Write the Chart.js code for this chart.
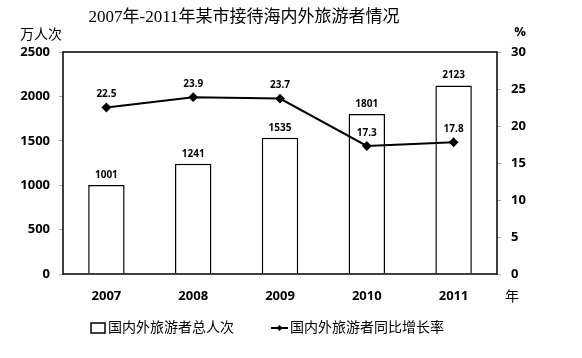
<!DOCTYPE html>
<html>
<head>
<meta charset="utf-8">
<script src="https://cdn.jsdelivr.net/npm/chart.js@4"></script>
<style>
  html, body { margin: 0; padding: 0; background: #fff; }
  canvas { display: block; }
</style>
</head>
<body>
<canvas id="chart" width="582" height="358"></canvas>
<script>
// chart data
const years = ['2007', '2008', '2009', '2010', '2011'];
const visitors = [1001, 1241, 1535, 1801, 2123];   // 万人次
const growth = [22.5, 23.9, 23.7, 17.3, 17.8];     // %
const leftTicks = [0, 500, 1000, 1500, 2000, 2500];
const rightTicks = [0, 5, 10, 15, 20, 25, 30];

const titleText = '2007年-2011年某市接待海内外旅游者情况';
const barName = '国内外旅游者总人次';
const lineName = '国内外旅游者同比增长率';

const tickFont = { family: "'Open Sans', 'Liberation Sans', sans-serif", size: 13, weight: 'bold' };
const labelFont = "bold 10px 'Open Sans', 'Liberation Sans', sans-serif";
const cjkFont = "'Liberation Serif', 'Noto Sans CJK SC', serif";

// title, axis units, value labels, frame and legend
const decorations = {
  id: 'decorations',
  afterDatasetsDraw(c) {
    const ctx = c.ctx;
    const area = c.chartArea;
    ctx.save();

    // frame round the plot
    ctx.strokeStyle = '#000';
    ctx.lineWidth = 1.5;
    ctx.strokeRect(area.left, area.top, area.right - area.left, area.bottom - area.top);

    ctx.fillStyle = '#000';
    ctx.textBaseline = 'middle';

    ctx.font = '17px ' + cjkFont;
    ctx.textAlign = 'center';
    ctx.fillText(titleText, 244, 18);

    ctx.font = '14px ' + cjkFont;
    ctx.fillText('万人次', 41, 35);
    ctx.fillText('年', 512, 297);
    ctx.font = "bold 13px 'Open Sans', 'Liberation Sans', sans-serif";
    ctx.fillText('%', 520, 32);

    // values on bars and points
    ctx.font = labelFont;
    ctx.textBaseline = 'bottom';
    c.getDatasetMeta(0).data.forEach((bar, i) => {
      ctx.fillText(String(visitors[i]), bar.x, bar.y - 5);
    });
    c.getDatasetMeta(1).data.forEach((pt, i) => {
      ctx.fillText(growth[i].toFixed(1), pt.x, pt.y - 8);
    });

    // legend
    ctx.lineWidth = 1.5;
    ctx.strokeRect(91, 323, 14, 10);
    ctx.font = '14px ' + cjkFont;
    ctx.textAlign = 'left';
    ctx.textBaseline = 'middle';
    ctx.fillText(barName, 108, 328);

    ctx.beginPath();
    ctx.moveTo(271, 328);
    ctx.lineTo(288, 328);
    ctx.lineWidth = 2;
    ctx.stroke();
    ctx.beginPath();
    ctx.moveTo(279.5, 325);
    ctx.lineTo(282.5, 328);
    ctx.lineTo(279.5, 331);
    ctx.lineTo(276.5, 328);
    ctx.closePath();
    ctx.fill();
    ctx.fillText(lineName, 290, 328);

    ctx.restore();
  }
};

const chart = new Chart(document.getElementById('chart'), {
  data: {
    labels: years,
    datasets: [
      {
        type: 'bar',
        label: barName,
        data: visitors,
        yAxisID: 'y',
        backgroundColor: '#fff',
        borderColor: '#000',
        borderWidth: 1.5,
        barPercentage: 0.42,
        categoryPercentage: 1,
        order: 2
      },
      {
        type: 'line',
        label: lineName,
        data: growth,
        yAxisID: 'y1',
        borderColor: '#000',
        borderWidth: 2,
        backgroundColor: '#000',
        pointStyle: 'rectRot',
        pointRadius: 3.5,
        tension: 0,
        order: 1
      }
    ]
  },
  options: {
    responsive: false,
    animation: false,
    layout: { padding: { top: 52, bottom: 0, left: 0, right: 0 } },
    plugins: {
      legend: { display: false },
      tooltip: { enabled: false }
    },
    scales: {
      x: {
        grid: { display: false, drawTicks: false },
        border: { display: false },
        ticks: { color: '#000', font: tickFont, padding: 14 },
        afterFit(s) { s.height = 84; }
      },
      y: {
        position: 'left',
        min: 0,
        max: 2500,
        afterBuildTicks(s) { s.ticks = leftTicks.map(v => ({ value: v })); },
        grid: { drawOnChartArea: false, tickLength: 4, color: '#aaa' },
        border: { display: false },
        ticks: { color: '#000', font: tickFont, padding: 9, callback: v => String(v) },
        afterFit(s) { s.width = 63; }
      },
      y1: {
        position: 'right',
        min: 0,
        max: 30,
        afterBuildTicks(s) { s.ticks = rightTicks.map(v => ({ value: v })); },
        grid: { drawOnChartArea: false, tickLength: 4, color: '#aaa' },
        border: { display: false },
        ticks: { color: '#000', font: tickFont, padding: 10, callback: v => String(v) },
        afterFit(s) { s.width = 85; }
      }
    }
  },
  plugins: [decorations]
});
</script>
</body>
</html>
